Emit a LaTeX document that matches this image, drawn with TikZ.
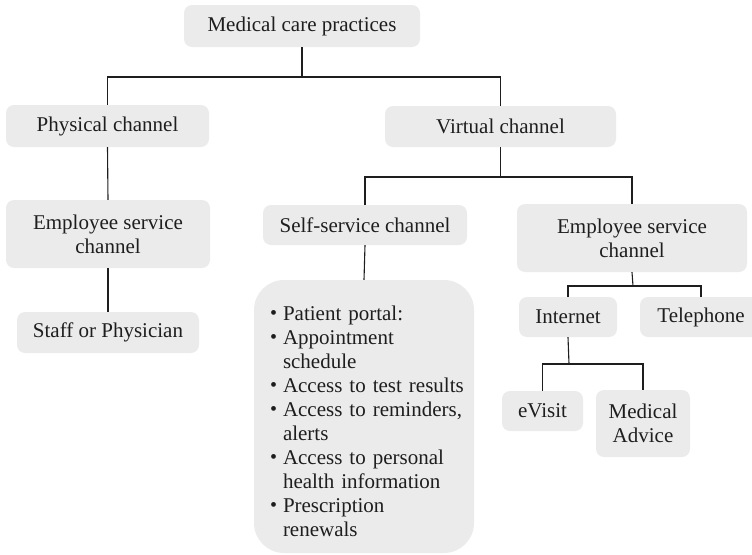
\documentclass[tikz,border=0pt]{standalone}
\usepackage{fontspec}
\setmainfont{Liberation Serif}
\usetikzlibrary{calc}
\definecolor{boxgray}{HTML}{EBEBEB}
\definecolor{inkgray}{HTML}{1E1E1E}
\newcommand\portalitem[1]{\par\hangindent=19pt\hangafter=1\noindent\makebox[19pt][l]{\hspace{6pt}\raisebox{0.1ex}{\fontsize{20}{20}\selectfont\textbullet}}#1}
\begin{document}
\begin{tikzpicture}[x=1pt,y=1pt,
  font=\fontsize{21}{24}\selectfont,
  box/.style={fill=boxgray, rounded corners=8pt, align=center, inner sep=0pt, text=inkgray},
  link/.style={draw=inkgray, line width=1.1pt}]
\useasboundingbox (0,0) rectangle (752,-554);

% nodes of the tree
\node[box, minimum width=236pt, minimum height=42pt] (top) at (302,-26) {Medical care practices};
\node[box, minimum width=203pt, minimum height=42pt] (phys) at (107.5,-126) {Physical channel};
\node[box, minimum width=231pt, minimum height=41pt] (virt) at (500.5,-126.5) {Virtual channel};
\node[box, minimum width=204pt, minimum height=68pt] (esl) at (108,-234) {Employee service\\channel};
\node[box, minimum width=182pt, minimum height=41pt] (staff) at (108,-332.5) {Staff or Physician};
\node[box, minimum width=204pt, minimum height=40pt] (self) at (365,-225) {Self-service channel};
\node[box, minimum width=230pt, minimum height=68pt] (esr) at (632,-238) {Employee service\\channel};
\node[box, minimum width=98pt, minimum height=40pt] (internet) at (568,-317) {Internet};
\node[box, minimum width=122pt, minimum height=40pt] (tel) at (701,-317) {Telephone};
\node[box, minimum width=81pt, minimum height=40pt] (evisit) at (542.5,-411) {eVisit};
\node[box, minimum width=94pt, minimum height=67pt] (medadv) at (643,-423.5) {Medical\\Advice};
\node[box, rounded corners=30pt, minimum height=273pt, inner xsep=10pt,
      text width=200pt, align=left] (portal) at (364,-416.5)
  {\raggedright
   \portalitem{Patient portal:}
   \portalitem{Appointment\newline schedule}
   \portalitem{Access to test results}
   \portalitem{Access to reminders,\newline alerts}
   \portalitem{Access to personal\newline health information}
   \portalitem{Prescription\newline renewals}\par};

% junction points of the connectors
\coordinate (j1) at (302,-77);
\coordinate (j2) at (500.5,-177);
\coordinate (j3) at (633,-286);
\coordinate (j4) at (569,-364);

% connectors
\draw[link] (top.south) -- (j1);
\draw[link] (phys.north) |- (j1) -| (virt.north);
\draw[link] (phys.south) -- (esl.north);
\draw[link] (esl.south) -- (staff.north);
\draw[link] (virt.south) -- (j2);
\draw[link] (self.north) |- (j2) -| (esr.north);
\draw[link] (self.south) -- (portal.north);
\draw[link] (esr.south) -- (j3);
\draw[link] (internet.north) |- (j3) -| (tel.north);
\draw[link] (internet.south) -- (j4);
\draw[link] (evisit.north) |- (j4) -| (medadv.north);
\end{tikzpicture}
\end{document}
